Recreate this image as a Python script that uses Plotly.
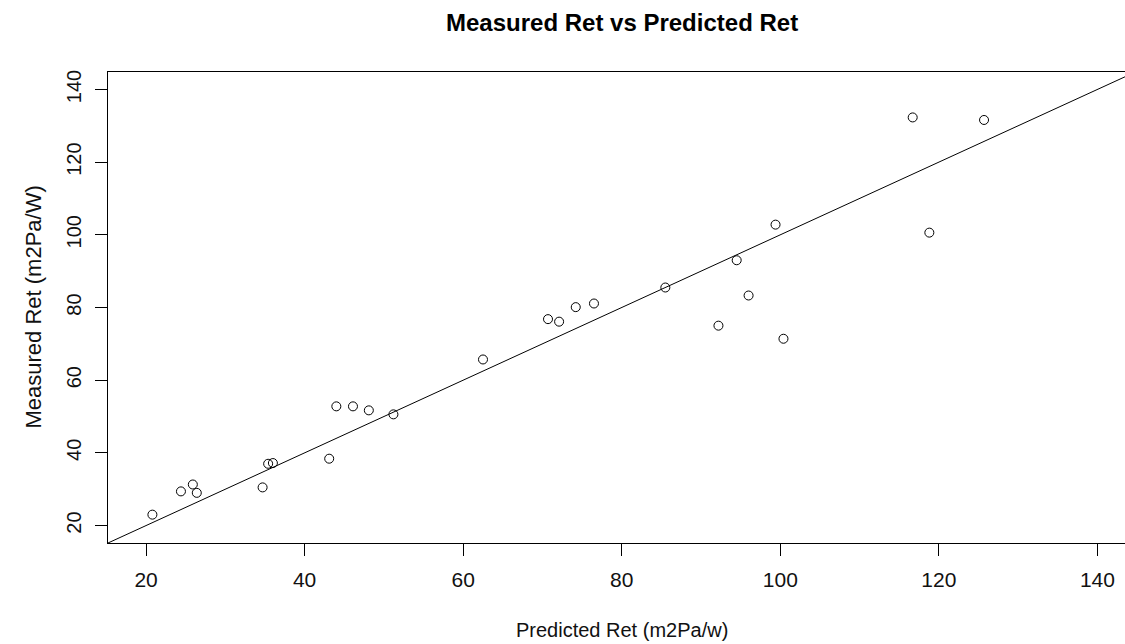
import plotly.graph_objects as go

predicted = [20.8, 24.4, 25.9, 26.4, 34.7, 35.4, 36.0, 43.1, 44.0, 46.1, 48.1, 51.2,
             62.5, 70.7, 72.1, 74.2, 76.5, 85.5, 92.2, 94.5, 96.0, 99.4, 100.4,
             116.7, 118.8, 125.7]
measured = [23.0, 29.4, 31.3, 29.0, 30.5, 37.0, 37.2, 38.4, 52.8, 52.8, 51.7, 50.6,
            65.7, 76.8, 76.1, 80.1, 81.1, 85.5, 75.0, 93.0, 83.3, 102.8, 71.4,
            132.3, 100.6, 131.6]
tick_vals = [20, 40, 60, 80, 100, 120, 140]
ab_line = (0.0, 1.0)  # intercept, slope

x_range = [15.2, 143.48]
y_range = [15.2, 144.8]

W, H = 1125, 644
L, R, T, B = 108, 0, 72, 101

font_family = "Liberation Sans, Arial, sans-serif"
ink = "#111111"

fig = go.Figure()
lx = [y_range[0], y_range[1]]
fig.add_trace(go.Scatter(
    x=lx, y=[ab_line[0] + ab_line[1] * v for v in lx],
    mode="lines", line=dict(color="black", width=1), hoverinfo="skip", showlegend=False,
))
fig.add_trace(go.Scatter(
    x=predicted, y=measured, mode="markers",
    marker=dict(symbol="circle-open", size=9, color="black", line=dict(width=1, color="black")),
    showlegend=False,
))

fig.update_layout(
    width=W, height=H,
    margin=dict(l=L, r=R, t=T, b=B, autoexpand=False),
    paper_bgcolor="white", plot_bgcolor="white",
    font=dict(family=font_family, color=ink),
    showlegend=False,
    xaxis=dict(range=x_range, tickmode="array", tickvals=tick_vals,
               showgrid=False, zeroline=False, showline=True, mirror=True,
               linecolor="black", linewidth=1, ticks="outside", ticklen=12,
               tickcolor="black", tickwidth=1, tickfont=dict(size=21, color=ink),
               ticklabelstandoff=6),
    yaxis=dict(range=y_range, tickmode="array", tickvals=tick_vals,
               showgrid=False, zeroline=False, showline=True, mirror=False,
               linecolor="black", linewidth=1, ticks="outside", ticklen=12,
               tickcolor="black", tickwidth=1, tickfont=dict(size=20, color=ink),
               tickangle=-90, ticklabelstandoff=6),
)

ph = H - T - B
pw = W - L - R
def py(p):
    return (H - B - p) / ph
def px(p):
    return (p - L) / pw

fig.add_annotation(text="<b>Measured Ret vs Predicted Ret</b>", x=px(621.6), y=py(22),
                   xref="paper", yref="paper", showarrow=False,
                   font=dict(size=24, color="black"), xanchor="center", yanchor="middle")
fig.add_annotation(text="Predicted Ret (m2Pa/w)", x=px(621.6), y=py(630),
                   xref="paper", yref="paper", showarrow=False,
                   font=dict(size=20, color=ink), xanchor="center", yanchor="middle")
fig.add_annotation(text="Measured Ret (m2Pa/W)", x=px(33), y=py(307.5),
                   xref="paper", yref="paper", showarrow=False, textangle=-90,
                   font=dict(size=22, color=ink), xanchor="center", yanchor="middle")

fig.write_html("out.html", config={"displayModeBar": False},
               post_script="document.body.style.margin='0';document.body.style.overflow='hidden';")
